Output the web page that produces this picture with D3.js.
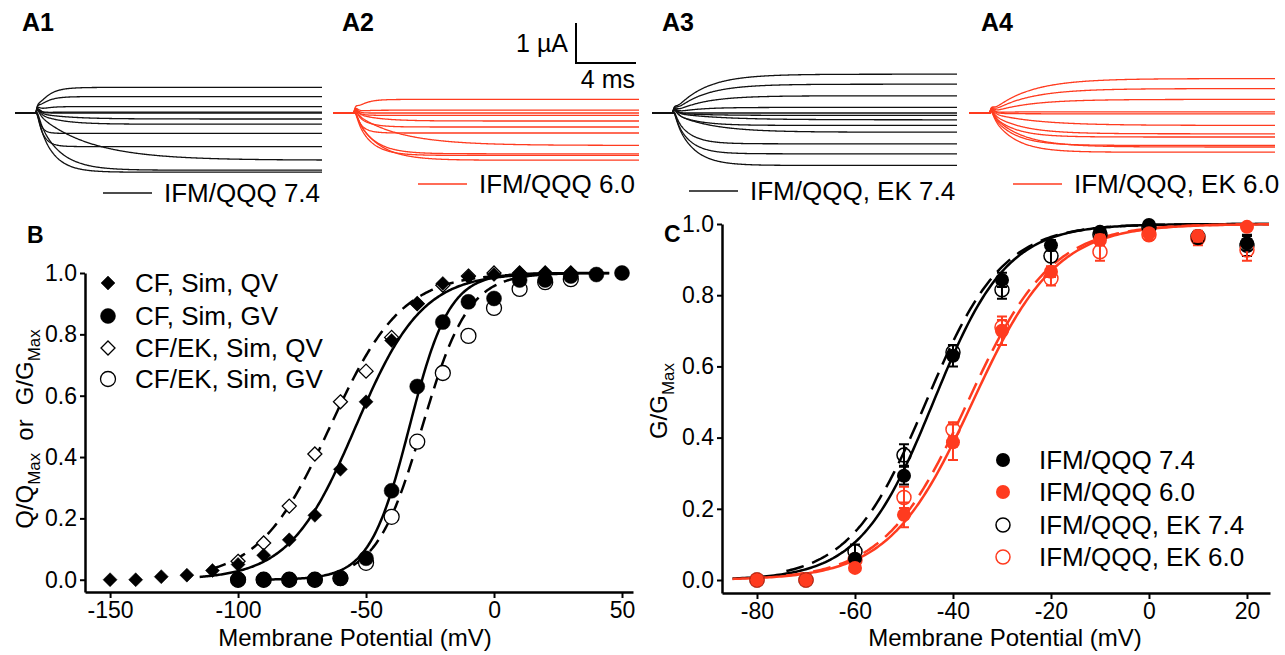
<!DOCTYPE html>
<html>
<head>
<meta charset="utf-8">
<script src="https://cdn.jsdelivr.net/npm/d3@7"></script>
<style>
  body { margin: 0; background: #fff; }
  svg text { font-family: Arial, "Liberation Sans", sans-serif; fill: #000; }
</style>
</head>
<body>
<svg id="fig" width="1285" height="655"></svg>
<script>
const RED = "#ff3b1f";

// ---- A1-A4: current traces (steady-state amplitude in uA, activation time constant in ms)
const a1Amp = [0.64, 0.41, 0.16, 0.02, 0, -0.15, -0.28, -0.51, -0.84, -1.18, -1.43, -1.48];
const a1Tau = [0.7, 0.6, 0.5, 0.5, 0.5, 2.0, 1.5, 0.3, 0.45, 3.5, 1.4, 1.0];
const a2Amp = [0.34, 0.07, 0, -0.06, -0.2, -0.35, -0.5, -0.81, -1.02, -1.06, -1.18];
const a2Tau = [0.6, 0.5, 0.5, 0.5, 1.5, 0.8, 0.5, 3.0, 1.2, 1.0, 1.5];
const a3Amp = [0.97, 0.72, 0.43, 0.14, 0, -0.06, -0.17, -0.31, -0.48, -0.77, -1.02, -1.31];
const a3Tau = [2.0, 2.0, 2.0, 1.5, 0.5, 2.0, 3.0, 1.5, 2.5, 1.0, 1.0, 1.2];
const a4Amp = [0.86, 0.61, 0.34, 0.03, -0.02, -0.31, -0.52, -0.6, -0.81, -0.85, -0.98];
const a4Tau = [2.5, 2.5, 2.5, 1.0, 1.0, 3.0, 2.0, 1.5, 1.5, 2.0, 1.5];
const traceDuration = 20.5; // ms
const stepTime = 1.4;       // ms
const capSpike = 0.1;       // uA

// ---- B: simulated QV / GV
const qvCFv = [-150, -140, -130, -120, -110, -100, -90, -80, -70, -60, -50, -40, -30, -20, -10, 0, 10, 20, 30];
const qvCF  = [0, 0, 0.01, 0.015, 0.03, 0.05, 0.08, 0.13, 0.21, 0.36, 0.58, 0.78, 0.90, 0.966, 0.988, 0.995, 1, 1, 1];
const qvEKv = [-100, -90, -80, -70, -60, -50, -40, -30, -20, -10, 0, 10, 20, 30];
const qvEK  = [0.06, 0.12, 0.24, 0.41, 0.58, 0.68, 0.79, 0.90, 0.96, 0.99, 1, 1, 1, 1];
const gvCFv = [-100, -90, -80, -70, -60, -50, -40, -30, -20, -10, 0, 10, 20, 30, 40, 50];
const gvCF  = [0, 0, 0, 0, 0.005, 0.07, 0.29, 0.63, 0.84, 0.906, 0.917, 0.977, 0.977, 0.99, 0.995, 1.0];
const gvEKv = [-100, -90, -80, -70, -60, -50, -40, -30, -20, -10, 0, 10, 20, 30];
const gvEK  = [0, 0, 0, 0, 0.005, 0.055, 0.205, 0.45, 0.674, 0.795, 0.886, 0.948, 0.97, 0.98];
// Boltzmann fits: [V1/2, slope, Vstart, Vend]
const fitQvCF = [-54, 13, -115, 45];
const fitQvEK = [-64, 14, -110, 30];
const fitGvCF = [-33, 7.8, -92, 45];
const fitGvEK = [-28, 9, -55, 30];

// ---- C: measured GV
const voltC  = [-80, -70, -60, -50, -40, -30, -20, -10, 0, 10, 20];
const g74    = [0.0, 0.0, 0.06, 0.293, 0.63, 0.843, 0.94, 0.978, 0.997, 0.96, 0.946];
const g60    = [0.0, 0.0, 0.034, 0.183, 0.387, 0.70, 0.866, 0.955, 0.974, 0.966, 0.992];
const gEK74  = [0.0, 0.0, 0.08, 0.351, 0.64, 0.815, 0.91, 0.97, 0.99, 0.964, 0.94];
const gEK60  = [0.0, 0.0, 0.056, 0.232, 0.423, 0.71, 0.847, 0.922, 0.97, 0.96, 0.927];
const e74    = [0.005, 0.005, 0.01, 0.025, 0.03, 0.02, 0.015, 0.01, 0.01, 0.01, 0.02];
const e60    = [0.005, 0.005, 0.01, 0.035, 0.05, 0.04, 0.015, 0.015, 0.01, 0.015, 0.01];
const eEK74  = [0.005, 0.005, 0.02, 0.03, 0.02, 0.025, 0.035, 0.01, 0.01, 0.015, 0.03];
const eEK60  = [0.005, 0.005, 0.015, 0.03, 0.02, 0.02, 0.02, 0.025, 0.015, 0.02, 0.03];
const fitC74   = [-44, 7.5];
const fitCEK74 = [-45.5, 7.8];
const fitC60   = [-36, 8.5];
const fitCEK60 = [-37, 8.5];

const svg = d3.select("#fig");

function boltz(v, p) { return 1 / (1 + Math.exp(-(v - p[0]) / p[1])); }

// ---------------- traces
function drawTraces(cfg) {
  var x = d3.scaleLinear().domain([0, traceDuration]).range([cfg.x0, cfg.x1]);
  var y = d3.scaleLinear().domain([-1, 1]).range([cfg.base + 40, cfg.base - 40]);
  var times = d3.range(0, traceDuration + 0.001, 0.05);
  var line = d3.line().x(d => x(d[0])).y(d => y(d[1]));
  cfg.amps.forEach(function (a, i) {
    var tau = cfg.taus[i];
    var pts = times.map(function (t) {
      if (t < stepTime) return [t, 0];
      var dt = t - stepTime;
      var spike = capSpike * (dt / 0.12) * Math.exp(1 - dt / 0.12);
      return [t, a * (1 - Math.exp(-dt / tau)) + spike];
    });
    svg.append("path").attr("d", line(pts))
      .attr("fill", "none").attr("stroke", cfg.color).attr("stroke-width", 1.3);
  });
  svg.append("line").attr("x1", cfg.lx0).attr("x2", cfg.lx0 + 49)
    .attr("y1", cfg.ly).attr("y2", cfg.ly)
    .attr("stroke", cfg.color).attr("stroke-width", 1.5);
  svg.append("text").attr("x", cfg.lx0 + 61).attr("y", cfg.ly + 9)
    .attr("font-size", 26).text(cfg.label);
  svg.append("text").attr("x", cfg.px).attr("y", 31)
    .attr("font-size", 25).attr("font-weight", "bold").text(cfg.name);
}

drawTraces({ name: "A1", px: 22, x0: 15, x1: 322, base: 113, color: "#111", amps: a1Amp, taus: a1Tau, lx0: 103, ly: 193, label: "IFM/QQQ 7.4" });
drawTraces({ name: "A2", px: 342, x0: 333, x1: 639, base: 113, color: RED, amps: a2Amp, taus: a2Tau, lx0: 418, ly: 184, label: "IFM/QQQ 6.0" });
drawTraces({ name: "A3", px: 662, x0: 652, x1: 957, base: 113, color: "#111", amps: a3Amp, taus: a3Tau, lx0: 689, ly: 191, label: "IFM/QQQ, EK 7.4" });
drawTraces({ name: "A4", px: 981, x0: 969, x1: 1275, base: 113, color: RED, amps: a4Amp, taus: a4Tau, lx0: 1013, ly: 184, label: "IFM/QQQ, EK 6.0" });

// scale bar
svg.append("path").attr("d", "M576,23V63H636").attr("fill", "none").attr("stroke", "#000").attr("stroke-width", 2);
svg.append("text").attr("x", 568).attr("y", 52).attr("text-anchor", "end").attr("font-size", 25).text("1 \u00b5A");
svg.append("text").attr("x", 635).attr("y", 88).attr("text-anchor", "end").attr("font-size", 25).text("4 ms");

// ---------------- axes helper
function styleAxis(g) {
  g.attr("font-family", "Arial, 'Liberation Sans', sans-serif").attr("font-size", 23);
  g.select(".domain").attr("stroke-width", 2.5);
  g.selectAll(".tick line").attr("stroke-width", 2);
  g.selectAll(".tick text").attr("fill", "#000");
}

function diamond(r) { return "M0," + (-r) + "L" + r + ",0L0," + r + "L" + (-r) + ",0Z"; }

function yTitle(x, y, parts) {
  var t = svg.append("text").attr("transform", "translate(" + x + "," + y + ") rotate(-90)")
    .attr("text-anchor", "middle").attr("font-size", 24);
  var shift = 0;
  parts.forEach(function (p) {
    var dy = p.sub ? 7 - shift : -shift;
    shift = p.sub ? 7 : 0;
    t.append("tspan").attr("dx", p.dx || 0).attr("dy", dy)
      .attr("font-size", p.sub ? 17 : 24).text(p.t);
  });
}

// ---------------- panel B
const xB = d3.scaleLinear().domain([-159.8, 54.3]).range([85, 633]);
const yB = d3.scaleLinear().domain([-0.04, 1.0]).range([592, 273]);

svg.append("g").attr("transform", "translate(0,592)")
  .call(d3.axisBottom(xB).tickValues([-150, -100, -50, 0, 50]).tickFormat(d => String(d))
    .tickSize(6).tickSizeOuter(0).tickPadding(4))
  .call(styleAxis);
svg.append("g").attr("transform", "translate(85,0)")
  .call(d3.axisLeft(yB).tickValues([0, 0.2, 0.4, 0.6, 0.8, 1.0]).tickFormat(d3.format(".1f"))
    .tickSize(5).tickSizeOuter(0).tickPadding(3))
  .call(styleAxis);

function fitLine(xs, ys, p, dashed, color, dash) {
  var pts = d3.range(p[2], p[3] + 0.01, 0.5).map(v => [v, boltz(v, p)]);
  svg.append("path")
    .attr("d", d3.line().x(d => xs(d[0])).y(d => ys(d[1]))(pts))
    .attr("fill", "none").attr("stroke", color).attr("stroke-width", 2.5)
    .attr("stroke-dasharray", dashed ? dash : null);
}
fitLine(xB, yB, fitQvCF, false, "#000");
fitLine(xB, yB, fitQvEK, true, "#000", "14,8");
fitLine(xB, yB, fitGvCF, false, "#000");
fitLine(xB, yB, fitGvEK, true, "#000", "14,8");

function markersB(vs, vals, kind) {
  svg.append("g").selectAll("path").data(vs).join("path")
    .attr("transform", (d, i) => "translate(" + xB(d) + "," + yB(vals[i]) + ")")
    .attr("d", kind.diamond ? diamond(7) : d3.symbol(d3.symbolCircle, Math.PI * 7.5 * 7.5)())
    .attr("fill", kind.open ? "#fff" : "#000")
    .attr("stroke", "#000").attr("stroke-width", kind.open ? 1.3 : 0.5);
}
markersB(gvEKv, gvEK, { open: true });
markersB(qvEKv, qvEK, { open: true, diamond: true });
markersB(qvCFv, qvCF, { diamond: true });
markersB(gvCFv, gvCF, {});

const legendB = [
  { t: "CF, Sim, QV", diamond: true },
  { t: "CF, Sim, GV" },
  { t: "CF/EK, Sim, QV", diamond: true, open: true },
  { t: "CF/EK, Sim, GV", open: true }
];
const legBy = [283, 316, 348, 379];
legendB.forEach(function (d, i) {
  svg.append("path").attr("transform", "translate(108," + legBy[i] + ")")
    .attr("d", d.diamond ? diamond(7) : d3.symbol(d3.symbolCircle, Math.PI * 7.5 * 7.5)())
    .attr("fill", d.open ? "#fff" : "#000").attr("stroke", "#000").attr("stroke-width", d.open ? 1.3 : 0.5);
  svg.append("text").attr("x", 135).attr("y", legBy[i] + 9).attr("font-size", 26).text(d.t);
});

svg.append("text").attr("x", 27).attr("y", 243).attr("font-size", 23).attr("font-weight", "bold").text("B");
svg.append("text").attr("x", 355).attr("y", 646).attr("text-anchor", "middle").attr("font-size", 24).text("Membrane Potential (mV)");
yTitle(33, 429, [{ t: "Q/Q" }, { t: "Max", sub: true }, { t: "or", dx: 12 }, { t: "G/G", dx: 14 }, { t: "Max", sub: true }]);

// ---------------- panel C
const xC = d3.scaleLinear().domain([-87.14, 24.7]).range([722, 1270]);
const yC = d3.scaleLinear().domain([-0.0365, 1.0]).range([593, 224]);

svg.append("g").attr("transform", "translate(0,593)")
  .call(d3.axisBottom(xC).tickValues([-80, -60, -40, -20, 0, 20]).tickFormat(d => String(d))
    .tickSize(6).tickSizeOuter(0).tickPadding(4))
  .call(styleAxis);
svg.append("g").attr("transform", "translate(722,0)")
  .call(d3.axisLeft(yC).tickValues([0, 0.2, 0.4, 0.6, 0.8, 1.0]).tickFormat(d3.format(".1f"))
    .tickSize(5).tickSizeOuter(0).tickPadding(3))
  .call(styleAxis);

fitLine(xC, yC, fitCEK74.concat([-74, 24.7]), true, "#000", "18,9");
fitLine(xC, yC, fitC74.concat([-85, 24.7]), false, "#000");
fitLine(xC, yC, fitCEK60.concat([-74, 24.7]), true, RED, "18,9");
fitLine(xC, yC, fitC60.concat([-85, 24.7]), false, RED);

function seriesC(vals, errs, color, open) {
  var g = svg.append("g");
  voltC.forEach(function (v, i) {
    var x = xC(v), y0 = yC(vals[i] - errs[i]), y1 = yC(vals[i] + errs[i]);
    g.append("path").attr("d", "M" + x + "," + y0 + "V" + y1 + "M" + (x - 5) + "," + y0 + "H" + (x + 5) + "M" + (x - 5) + "," + y1 + "H" + (x + 5))
      .attr("stroke", color).attr("stroke-width", 2).attr("fill", "none");
  });
  g.selectAll("circle").data(voltC).join("circle")
    .attr("cx", d => xC(d)).attr("cy", (d, i) => yC(vals[i])).attr("r", 7)
    .attr("fill", open ? "none" : color).attr("stroke", color).attr("stroke-width", open ? 1.5 : 0);
}
seriesC(gEK74, eEK74, "#000", true);
seriesC(gEK60, eEK60, RED, true);
seriesC(g74, e74, "#000", false);
seriesC(g60, e60, RED, false);

const legendC = [
  { t: "IFM/QQQ 7.4", c: "#000" },
  { t: "IFM/QQQ 6.0", c: RED },
  { t: "IFM/QQQ, EK 7.4", c: "#000", open: true },
  { t: "IFM/QQQ, EK 6.0", c: RED, open: true }
];
const legCy = [460, 492, 525, 557];
legendC.forEach(function (d, i) {
  svg.append("circle").attr("cx", 1003).attr("cy", legCy[i]).attr("r", 7)
    .attr("fill", d.open ? "none" : d.c).attr("stroke", d.c).attr("stroke-width", d.open ? 1.5 : 0);
  svg.append("text").attr("x", 1039).attr("y", legCy[i] + 9).attr("font-size", 26).text(d.t);
});

svg.append("text").attr("x", 664).attr("y", 242).attr("font-size", 23).attr("font-weight", "bold").text("C");
svg.append("text").attr("x", 1005).attr("y", 646).attr("text-anchor", "middle").attr("font-size", 24).text("Membrane Potential (mV)");
yTitle(667, 401, [{ t: "G/G" }, { t: "Max", sub: true }]);
</script>
</body>
</html>
